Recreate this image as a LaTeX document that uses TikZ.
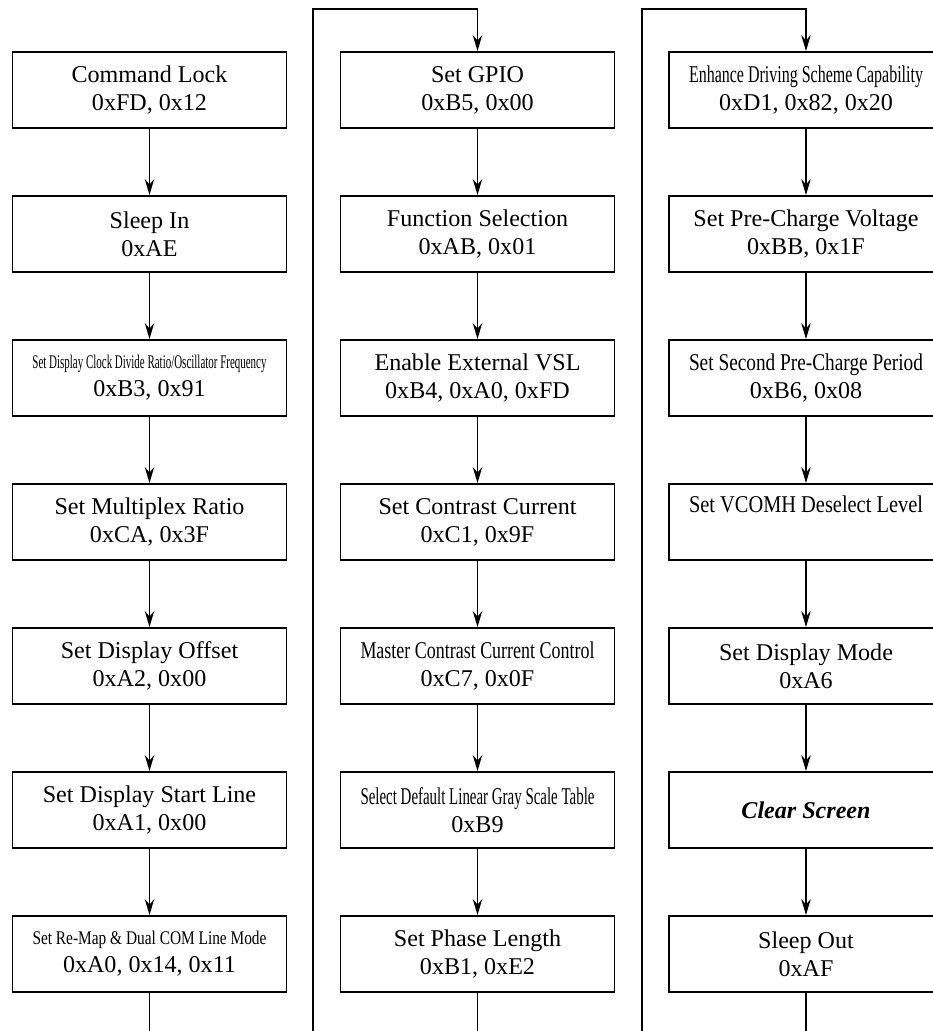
\documentclass[tikz,border=0pt]{standalone}
\usepackage{fontspec}
\setmainfont{Liberation Serif}
\usepackage{graphicx}
\usetikzlibrary{arrows.meta}

% long titles are squeezed to the width of the box text
\newlength\titlewd
\setlength\titlewd{4.68cm}
\newsavebox\titlebox
\newcommand\fittitle[1]{\sbox\titlebox{#1}%
  \ifdim\wd\titlebox>\titlewd\resizebox{\titlewd}{\ht\titlebox}{\usebox\titlebox}\else\usebox\titlebox\fi}
\newcommand\smalltitle{\fontsize{11}{15.9}\selectfont}

\tikzset{
  cmd/.style={draw, line width=1.1pt, minimum width=5.48cm, minimum height=1.52cm,
    inner sep=0pt, align=center, font=\fontsize{13.7}{15.9}\selectfont},
  flow/.style={line width=0.8pt, -{Stealth[length=3.2mm, width=1.9mm, inset=1.1mm]}},
  link/.style={line width=0.8pt},
}

\begin{document}
\begin{tikzpicture}
  \clip (0,0) rectangle (18.66,-20.62);
  % first column
  \node[cmd] (lock) at (2.99,-1.8) {Command Lock\\0xFD, 0x12};
  \node[cmd] (sleepin) at (2.99,-4.68) {Sleep In\\0xAE};
  \node[cmd] (clkdiv) at (2.99,-7.56) {\fittitle{\smalltitle Set Display Clock Divide Ratio/Oscillator Frequency}\\0xB3, 0x91};
  \node[cmd] (mux) at (2.99,-10.44) {Set Multiplex Ratio\\0xCA, 0x3F};
  \node[cmd] (offset) at (2.99,-13.32) {Set Display Offset\\0xA2, 0x00};
  \node[cmd] (startline) at (2.99,-16.2) {Set Display Start Line\\0xA1, 0x00};
  \node[cmd] (remap) at (2.99,-19.08) {\fittitle{\smalltitle Set Re-Map \& Dual COM Line Mode}\\0xA0, 0x14, 0x11};
  % second column
  \node[cmd] (gpio) at (9.55,-1.8) {Set GPIO\\0xB5, 0x00};
  \node[cmd] (funcsel) at (9.55,-4.68) {Function Selection\\0xAB, 0x01};
  \node[cmd] (vsl) at (9.55,-7.56) {Enable External VSL\\0xB4, 0xA0, 0xFD};
  \node[cmd] (contrast) at (9.55,-10.44) {Set Contrast Current\\0xC1, 0x9F};
  \node[cmd] (master) at (9.55,-13.32) {\fittitle{Master Contrast Current Control}\\0xC7, 0x0F};
  \node[cmd] (gray) at (9.55,-16.2) {\fittitle{Select Default Linear Gray Scale Table}\\0xB9};
  \node[cmd] (phase) at (9.55,-19.08) {Set Phase Length\\0xB1, 0xE2};
  % third column
  \node[cmd] (enhance) at (16.12,-1.8) {\fittitle{Enhance Driving Scheme Capability}\\0xD1, 0x82, 0x20};
  \node[cmd] (precharge) at (16.12,-4.68) {\fittitle{Set Pre-Charge Voltage}\\0xBB, 0x1F};
  \node[cmd] (second) at (16.12,-7.56) {\fittitle{Set Second Pre-Charge Period}\\0xB6, 0x08};
  \node[cmd] (vcomh) at (16.12,-10.44) {\fittitle{Set VCOMH Deselect Level}\\\strut};
  \node[cmd] (mode) at (16.12,-13.32) {Set Display Mode\\0xA6};
  \node[cmd] (clear) at (16.12,-16.2) {\bfseries\itshape Clear Screen};
  \node[cmd] (sleepout) at (16.12,-19.08) {Sleep Out\\0xAF};

  \draw[flow] (lock) -- (sleepin);
  \draw[flow] (sleepin) -- (clkdiv);
  \draw[flow] (clkdiv) -- (mux);
  \draw[flow] (mux) -- (offset);
  \draw[flow] (offset) -- (startline);
  \draw[flow] (startline) -- (remap);
  \draw[flow] (gpio) -- (funcsel);
  \draw[flow] (funcsel) -- (vsl);
  \draw[flow] (vsl) -- (contrast);
  \draw[flow] (contrast) -- (master);
  \draw[flow] (master) -- (gray);
  \draw[flow] (gray) -- (phase);
  \draw[flow] (enhance) -- (precharge);
  \draw[flow] (precharge) -- (second);
  \draw[flow] (second) -- (vcomh);
  \draw[flow] (vcomh) -- (mode);
  \draw[flow] (mode) -- (clear);
  \draw[flow] (clear) -- (sleepout);

  % runs between the columns
  \coordinate (footA) at (6.26,-20.62);
  \coordinate (footB) at (12.84,-20.62);
  \coordinate (upA) at (6.26,-0.18);
  \coordinate (upB) at (12.84,-0.18);
  \draw[link] (remap) -- (remap |- footA);
  \draw[link] (phase) -- (phase |- footA);
  \draw[link] (sleepout) -- (sleepout |- footA);
  \draw[flow] (footA) -- (upA) -| (gpio);
  \draw[flow] (footB) -- (upB) -| (enhance);
\end{tikzpicture}
\end{document}
